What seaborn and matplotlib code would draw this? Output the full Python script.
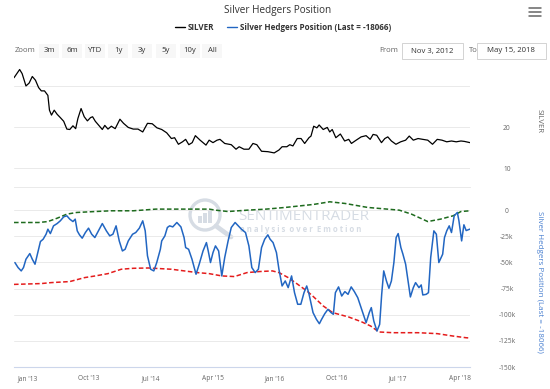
import pandas as pd
import numpy as np
import matplotlib.pyplot as plt
from matplotlib.patches import Rectangle, Ellipse
from matplotlib.lines import Line2D
import seaborn as sns

# silver price (top pane)
silver_dates = ['2012-11-03', '2012-11-28', '2012-12-09', '2012-12-26', '2013-01-09', '2013-01-23', '2013-02-06',
                '2013-02-20', '2013-03-04', '2013-03-18', '2013-04-02', '2013-04-09', '2013-04-18', '2013-04-30',
                '2013-05-13', '2013-05-27', '2013-06-11', '2013-06-25', '2013-07-08', '2013-07-22', '2013-08-03',
                '2013-08-13', '2013-08-27', '2013-09-10', '2013-09-24', '2013-10-08', '2013-10-17', '2013-10-29',
                '2013-11-12', '2013-11-29', '2013-12-10', '2013-12-24', '2014-01-08', '2014-01-25', '2014-02-15',
                '2014-03-03', '2014-03-24', '2014-04-15', '2014-05-06', '2014-05-27', '2014-06-17', '2014-07-08',
                '2014-07-29', '2014-08-19', '2014-09-10', '2014-10-01', '2014-10-15', '2014-11-01', '2014-11-19',
                '2014-12-03', '2014-12-17', '2015-01-01', '2015-01-15', '2015-02-05', '2015-03-03', '2015-03-17',
                '2015-04-03', '2015-04-21', '2015-05-04', '2015-05-25', '2015-06-23', '2015-07-14', '2015-07-28',
                '2015-08-18', '2015-09-09', '2015-09-27', '2015-10-14', '2015-11-04', '2015-12-02', '2015-12-30',
                '2016-01-20', '2016-02-03', '2016-02-24', '2016-03-08', '2016-03-22', '2016-04-10', '2016-04-27',
                '2016-05-13', '2016-06-01', '2016-06-10', '2016-06-22', '2016-07-06', '2016-07-16', '2016-08-03',
                '2016-08-21', '2016-09-01', '2016-09-12', '2016-09-28', '2016-10-18', '2016-11-06', '2016-11-24',
                '2016-12-06', '2016-12-27', '2017-01-18', '2017-02-09', '2017-02-27', '2017-03-12', '2017-03-28',
                '2017-04-18', '2017-05-03', '2017-05-16', '2017-06-01', '2017-06-21', '2017-07-12', '2017-08-03',
                '2017-08-19', '2017-09-06', '2017-09-27', '2017-10-18', '2017-11-09', '2017-11-30', '2017-12-21',
                '2018-01-11', '2018-02-01', '2018-02-22', '2018-03-15', '2018-04-05', '2018-04-20', '2018-05-15']
silver_values = [32.0, 34.0, 33.0, 30.0, 30.7, 32.3, 31.4, 29.6, 28.8, 28.8, 27.7, 24.1, 22.9, 24.1, 23.1, 22.3,
                 21.4, 19.5, 19.4, 20.3, 19.6, 22.1, 24.5, 22.5, 21.5, 22.3, 22.5, 21.4, 20.5, 19.4, 20.4, 19.5,
                 20.2, 19.6, 21.9, 20.9, 19.9, 19.5, 19.5, 18.8, 20.9, 20.8, 19.8, 19.4, 18.6, 17.2, 17.4, 15.8,
                 16.4, 17.0, 15.7, 16.2, 17.9, 16.8, 15.6, 16.8, 16.2, 16.8, 17.0, 16.0, 15.7, 14.6, 15.2, 14.6,
                 14.6, 16.0, 15.7, 14.1, 14.0, 13.7, 14.4, 15.2, 15.2, 15.7, 15.4, 17.2, 17.2, 16.0, 17.4, 17.8,
                 20.2, 19.8, 20.5, 19.4, 19.9, 18.8, 19.4, 17.4, 18.3, 16.6, 17.0, 16.0, 16.8, 17.6, 17.9, 17.0,
                 18.2, 18.0, 16.2, 17.2, 17.6, 16.6, 15.8, 16.4, 16.8, 17.8, 16.8, 17.2, 17.0, 16.8, 15.8, 17.0,
                 16.8, 16.4, 16.6, 16.4, 16.6, 16.5, 16.2]

# hedgers position, thousands of contracts (bottom pane)
hedge_dates = ['2012-11-07', '2012-11-21', '2012-12-05', '2012-12-15', '2012-12-26', '2013-01-12', '2013-01-23',
               '2013-02-04', '2013-02-18', '2013-02-28', '2013-03-12', '2013-03-25', '2013-04-02', '2013-04-13',
               '2013-04-27', '2013-05-13', '2013-05-27', '2013-06-11', '2013-06-25', '2013-07-08', '2013-07-22',
               '2013-08-01', '2013-08-10', '2013-08-20', '2013-09-01', '2013-09-15', '2013-09-29', '2013-10-13',
               '2013-10-27', '2013-11-12', '2013-11-29', '2013-12-17', '2014-01-01', '2014-01-15', '2014-01-29',
               '2014-02-12', '2014-02-26', '2014-03-10', '2014-03-24', '2014-04-12', '2014-04-26', '2014-05-12',
               '2014-05-27', '2014-06-07', '2014-06-17', '2014-07-01', '2014-07-15', '2014-07-28', '2014-08-13',
               '2014-08-19', '2014-09-02', '2014-09-13', '2014-09-23', '2014-10-07', '2014-10-25', '2014-11-12',
               '2014-11-26', '2014-12-03', '2014-12-16', '2014-12-31', '2015-01-18', '2015-02-01', '2015-02-18',
               '2015-03-05', '2015-03-13', '2015-03-23', '2015-04-03', '2015-04-14', '2015-04-28', '2015-05-12',
               '2015-05-25', '2015-06-09', '2015-06-23', '2015-07-10', '2015-07-24', '2015-08-07', '2015-08-25',
               '2015-09-09', '2015-09-22', '2015-10-07', '2015-10-21', '2015-11-04', '2015-11-18', '2015-12-02',
               '2015-12-12', '2015-12-25', '2016-01-09', '2016-01-20', '2016-02-03', '2016-02-17', '2016-03-01',
               '2016-03-16', '2016-03-29', '2016-04-12', '2016-04-26', '2016-05-10', '2016-05-22', '2016-06-01',
               '2016-06-19', '2016-07-04', '2016-07-17', '2016-07-27', '2016-08-10', '2016-08-24', '2016-09-07',
               '2016-09-17', '2016-09-26', '2016-10-10', '2016-10-24', '2016-11-07', '2016-11-21', '2016-12-05',
               '2016-12-19', '2017-01-03', '2017-01-20', '2017-02-09', '2017-02-23', '2017-03-04', '2017-03-15',
               '2017-03-29', '2017-04-10', '2017-04-19', '2017-04-28', '2017-05-10', '2017-05-21', '2017-06-01',
               '2017-06-12', '2017-06-22', '2017-07-01', '2017-07-13', '2017-07-22', '2017-08-03', '2017-08-16',
               '2017-08-24', '2017-09-06', '2017-09-16', '2017-10-01', '2017-10-11', '2017-10-18', '2017-11-02',
               '2017-11-12', '2017-11-22', '2017-12-06', '2017-12-17', '2017-12-28', '2018-01-04', '2018-01-14',
               '2018-01-22', '2018-02-01', '2018-02-12', '2018-02-22', '2018-03-06', '2018-03-20', '2018-03-27',
               '2018-04-08', '2018-04-18', '2018-04-28', '2018-05-15']
hedge_values = [-50.1, -54.9, -58.1, -54.9, -46.9, -41.5, -46.9, -51.7, -39.0, -30.0, -27.8, -23.0, -18.2, -22.4,
                -15.0, -12.8, -10.2, -6.4, -5.4, -8.6, -10.9, -8.6, -19.8, -23.6, -26.8, -21.4, -17.2, -23.0,
                -26.2, -19.8, -12.8, -19.8, -24.6, -23.0, -15.0, -29.4, -39.0, -37.4, -29.4, -23.0, -21.4, -17.2,
                -10.2, -19.8, -43.7, -56.5, -58.1, -50.1, -37.4, -29.4, -24.6, -16.6, -15.0, -16.0, -11.8, -16.0,
                -26.2, -35.8, -37.4, -46.9, -61.3, -51.7, -39.0, -31.0, -39.0, -50.1, -40.6, -34.2, -39.0, -62.9,
                -45.3, -29.4, -16.6, -11.8, -15.0, -18.2, -21.4, -34.2, -54.9, -59.7, -56.5, -35.8, -27.8, -23.6,
                -27.8, -31.0, -40.6, -56.5, -72.5, -67.7, -74.1, -62.9, -78.9, -90.0, -90.0, -78.9, -72.5, -80.0,
                -98.0, -104.4, -108.6, -104.4, -99.0, -94.8, -98.0, -99.6, -78.9, -73.4, -82.1, -77.9, -80.5, -73.4,
                -77.9, -83.7, -94.8, -107.6, -98.0, -93.2, -106.0, -115.6, -109.2, -80.5, -58.1, -67.7, -74.7, -67.7,
                -50.1, -26.2, -22.4, -35.8, -42.1, -51.7, -70.9, -83.0, -74.1, -69.3, -74.1, -71.5, -81.1, -80.5,
                -78.9, -45.3, -19.8, -23.0, -50.1, -46.9, -42.1, -26.2, -19.8, -15.0, -21.4, -5.4, -2.2, -10.2,
                -29.4, -14.0, -19.5, -18.1]

# upper band (green dashed)
green_dates = ['2012-11-03', '2013-02-20', '2013-04-02', '2013-05-13', '2013-06-25', '2013-08-08', '2013-10-29',
               '2014-01-08', '2014-04-15', '2014-07-24', '2015-03-17', '2015-04-14', '2015-06-09', '2015-09-01',
               '2015-11-25', '2016-02-17', '2016-05-10', '2016-06-22', '2016-09-01', '2016-11-08', '2017-02-16',
               '2017-07-06', '2017-08-29', '2017-11-09', '2018-01-04', '2018-03-01', '2018-04-05', '2018-05-15']
green_values = [-11.8, -11.8, -10.9, -7.7, -3.8, -2.2, -1.3, -0.6, -0.6, 1.0, 1.0, 0.0, -1.3, 0.0, 1.0, 2.6, 4.5,
                5.5, 8.0, 6.4, 2.6, 0.0, -3.8, -10.9, -8.6, -5.4, -1.3, -0.6]

# lower band (red dashed)
red_dates = ['2012-11-03', '2013-03-04', '2013-04-16', '2013-07-08', '2013-09-12', '2013-10-29', '2013-12-24',
             '2014-02-21', '2014-04-15', '2014-06-21', '2014-10-01', '2015-01-23', '2015-03-17', '2015-05-12',
             '2015-07-07', '2015-09-01', '2015-10-27', '2015-12-22', '2016-01-20', '2016-03-01', '2016-04-12',
             '2016-05-24', '2016-06-22', '2016-08-03', '2016-09-14', '2016-11-24', '2017-01-18', '2017-03-01',
             '2017-04-07', '2017-06-09', '2017-09-27', '2017-12-21', '2018-03-01', '2018-04-27', '2018-05-15']
red_values = [-71.0, -70.2, -69.3, -68.3, -64.5, -62.9, -60.7, -56.5, -55.6, -55.3, -56.5, -59.7, -60.7, -62.9,
              -63.5, -59.7, -58.7, -58.1, -59.7, -64.5, -70.9, -77.5, -83.0, -91.6, -98.0, -102.2, -106.6, -110.8,
              -116.5, -117.2, -117.2, -118.1, -120.4, -122.0, -122.3]

tick_dates = ['2013-01-01', '2013-10-01', '2014-07-01', '2015-04-01', '2016-01-01', '2016-10-01', '2017-07-01',
              '2018-04-01']
tick_labels = ["Jan '13", "Oct '13", "Jul '14", "Apr '15", "Jan '16", "Oct '16", "Jul '17", "Apr '18"]
hedge_ticks = [0, -25, -50, -75, -100, -125, -150]
hedge_tick_labels = ['0', '-25k', '-50k', '-75k', '-100k', '-125k', '-150k']
silver_ticks = [10, 20, 30]
silver_tick_labels = ['10', '20', '']
zoom_buttons = ['3m', '6m', 'YTD', '1y', '3y', '5y', '10y', 'All']
date_from = 'Nov 3, 2012'
date_to = 'May 15, 2018'
last_value = -18066

sns.set_style('white')
plt.rcParams['font.family'] = ['Open Sans', 'DejaVu Sans']

W, H = 550, 389
fig = plt.figure(figsize=(5.5, 3.89), dpi=100)
fig.patch.set_facecolor('white')


def fx(x):
    return x / W


def fy(y):
    return 1 - y / H


BLUE = '#2266c2'
GRID = '#e6e6e6'
xmin, xmax = pd.Timestamp('2012-11-03'), pd.Timestamp('2018-05-15')

# pane frames in pixels: left 14, right 470
ax1 = fig.add_axes([fx(14), fy(187), fx(470) - fx(14), fy(65) - fy(187)])
ax2 = fig.add_axes([fx(14), fy(367), fx(470) - fx(14), fy(195) - fy(367)])
for ax in (ax1, ax2):
    ax.patch.set_alpha(0)

silver = pd.DataFrame({'date': pd.to_datetime(silver_dates), 'value': silver_values})
hedge = pd.DataFrame({'date': pd.to_datetime(hedge_dates), 'value': hedge_values})
green = pd.DataFrame({'date': pd.to_datetime(green_dates), 'value': green_values})
red = pd.DataFrame({'date': pd.to_datetime(red_dates), 'value': red_values})

sns.lineplot(data=silver, x='date', y='value', ax=ax1, color='black', linewidth=0.9)
sns.lineplot(data=green, x='date', y='value', ax=ax2, color='#1e6b1e', linewidth=1.1, linestyle=(0, (3, 1.6)))
sns.lineplot(data=red, x='date', y='value', ax=ax2, color='#e41c1c', linewidth=1.1, linestyle=(0, (3, 1.6)))
sns.lineplot(data=hedge, x='date', y='value', ax=ax2, color=BLUE, linewidth=1.1)

# top pane
ax1.set_xlim(xmin, xmax)
ax1.set_ylim(5.4, 35.1)
ax1.set_yticks(silver_ticks)
ax1.set_yticklabels(silver_tick_labels)
ax1.set_xticks([])
ax1.yaxis.tick_right()
ax1.grid(axis='y', color=GRID, linewidth=0.6)
for s in ['top', 'left', 'right']:
    ax1.spines[s].set_visible(False)
ax1.spines['bottom'].set_color(GRID)
ax1.spines['bottom'].set_linewidth(0.6)
ax1.set_xlabel('')
ax1.set_ylabel('')

# bottom pane
ax2.set_xlim(xmin, xmax)
ax2.set_ylim(-150, 14.5)
ax2.set_yticks(hedge_ticks)
ax2.set_yticklabels(hedge_tick_labels)
ax2.set_xticks(pd.to_datetime(tick_dates))
ax2.set_xticklabels(tick_labels)
ax2.yaxis.tick_right()
ax2.grid(axis='y', color=GRID, linewidth=0.6)
for s in ['top', 'left', 'right']:
    ax2.spines[s].set_visible(False)
ax2.spines['bottom'].set_color('#ccd6eb')
ax2.spines['bottom'].set_linewidth(0.8)
ax2.set_xlabel('')
ax2.set_ylabel('')
ax2.tick_params(axis='x', length=3, color='#ccd6eb', labelsize=4.8, labelcolor='#666666', pad=3)

for ax in (ax1, ax2):
    # labels centred about 37 px right of the pane
    ax.tick_params(axis='y', length=0, pad=26.6, labelsize=4.8, labelcolor='#666666')
    for lbl in ax.get_yticklabels():
        lbl.set_horizontalalignment('center')

# axis titles
fig.text(fx(539), fy(121), 'SILVER', rotation=-90, ha='center', va='center', fontsize=5.6, color='#666666')
fig.text(fx(539), fy(282), 'Silver Hedgers Position (Last = %d)' % last_value, rotation=-90,
         ha='center', va='center', fontsize=5.8, color='#4a80d0')

# watermark
wm = '#d6dce4'
ax2.text(fx(238), fy(216), 'SENTIMENTRADER', transform=fig.transFigure, fontsize=11, color=wm,
         ha='left', va='center', zorder=0.5, clip_on=False)
ax2.text(fx(240), fy(230), 'a n a l y s i s  o v e r  E m o t i o n', transform=fig.transFigure, fontsize=5.6,
         color=wm, ha='left', va='center', zorder=0.5, clip_on=False, fontweight='bold')
ax2.add_artist(Ellipse((fx(205), fy(215)), 30 / W, 30 / H, transform=fig.transFigure, fill=False,
                       edgecolor=wm, linewidth=2.4, zorder=0.5))
ax2.add_artist(Line2D([fx(216), fx(231)], [fy(226), fy(237)], transform=fig.transFigure, color=wm,
                      linewidth=3.4, zorder=0.5, solid_capstyle='round'))
for bx, bh in [(198, 7), (203, 10), (208, 13)]:
    ax2.add_artist(Rectangle((fx(bx), fy(223)), 3.5 / W, bh / H, transform=fig.transFigure,
                             facecolor=wm, edgecolor='none', zorder=0.5))

# header: title and legend
fig.text(fx(278), fy(10), 'Silver Hedgers Position', ha='center', va='center', fontsize=7.2, color='#333333')
fig.add_artist(Line2D([fx(175), fx(185)], [fy(27), fy(27)], color='black', linewidth=1.0))
fig.text(fx(188), fy(27), 'SILVER', ha='left', va='center', fontsize=5.8, color='#333333', fontweight='bold')
fig.add_artist(Line2D([fx(227), fx(237)], [fy(27), fy(27)], color=BLUE, linewidth=1.0))
fig.text(fx(240), fy(27), 'Silver Hedgers Position (Last = %d)' % last_value, ha='left', va='center',
         fontsize=5.8, color='#333333', fontweight='bold')

# menu icon
for yy in (8, 12, 16):
    fig.add_artist(Line2D([fx(529), fx(541)], [fy(yy), fy(yy)], color='#666666', linewidth=1.1))

# range selector
fig.text(fx(15), fy(51), 'Zoom', ha='left', va='center', fontsize=5.6, color='#666666')
button_x = [49, 72, 95, 118, 142, 166, 190, 212]
for bx, lab in zip(button_x, zoom_buttons):
    fig.add_artist(Rectangle((fx(bx - 10), fy(58)), 20 / W, 14 / H, facecolor='#f7f7f7', edgecolor='none'))
    fig.text(fx(bx), fy(51), lab, ha='center', va='center', fontsize=5.6, color='#333333')

fig.text(fx(379), fy(51), 'From', ha='left', va='center', fontsize=5.6, color='#666666')
fig.add_artist(Rectangle((fx(402), fy(59)), 61 / W, 16 / H, facecolor='white', edgecolor='#cccccc', linewidth=0.6))
fig.text(fx(432), fy(51), date_from, ha='center', va='center', fontsize=5.6, color='#333333')
fig.text(fx(469), fy(51), 'To', ha='left', va='center', fontsize=5.6, color='#666666')
fig.add_artist(Rectangle((fx(477), fy(59)), 69 / W, 16 / H, facecolor='white', edgecolor='#cccccc', linewidth=0.6))
fig.text(fx(511), fy(51), date_to, ha='center', va='center', fontsize=5.6, color='#333333')

fig.savefig('out.png', dpi=100)
